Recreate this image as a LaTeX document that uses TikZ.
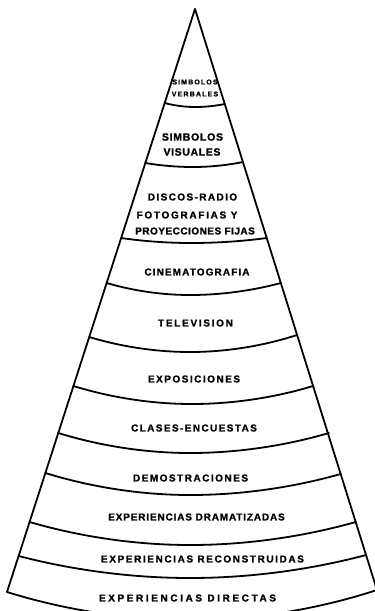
\documentclass[tikz,border=0pt]{standalone}
\usepackage{fontspec}
\setmainfont{Liberation Sans}
\newcommand\lsp[2]{{\addfontfeatures{LetterSpace=#1,FakeBold=1.3}#2}}
\begin{document}
\begin{tikzpicture}[x=1pt,y=-1pt,
  edge/.style={line width=1.8pt, line cap=round, line join=round},
  lbl/.style={inner sep=0pt, font=\fontsize{10}{12}\selectfont\bfseries},
  small/.style={inner sep=0pt, font=\fontsize{7}{8}\selectfont\bfseries},
  midl/.style={inner sep=0pt, font=\fontsize{10.5}{12}\selectfont\bfseries}]
\useasboundingbox (0,0) rectangle (375,611);
\clip (0,0) rectangle (375,611);
% apex and band boundary points (left, middle, right)
\coordinate (apex) at (195,9);
\coordinate (l1) at (164.7,103); \coordinate (m1) at (195,107); \coordinate (r1) at (224.8,104);
\coordinate (l2) at (145.3,163); \coordinate (m2) at (193,167); \coordinate (r2) at (242.9,162);
\coordinate (l3) at (121.1,238); \coordinate (m3) at (191,243); \coordinate (r3) at (266.7,238);
\coordinate (l4) at (106.6,283); \coordinate (m4) at (190,295); \coordinate (r4) at (280.8,283);
\coordinate (l5) at (89.2,337);  \coordinate (m5) at (190,352); \coordinate (r5) at (297.1,335);
\coordinate (l6) at (73.4,386);  \coordinate (m6) at (192,404); \coordinate (r6) at (313.1,386);
\coordinate (l7) at (58.3,433);  \coordinate (m7) at (190,453); \coordinate (r7) at (328.9,433);
\coordinate (l8) at (45.4,473);  \coordinate (m8) at (190,495); \coordinate (r8) at (340.7,474);
\coordinate (l9) at (29.6,522);  \coordinate (m9) at (190,545); \coordinate (r9) at (355.7,522);
\coordinate (l10) at (18.6,556); \coordinate (m10) at (190,578); \coordinate (r10) at (366.1,555);
\coordinate (l11) at (7,592);    \coordinate (m11) at (190,620); \coordinate (r11) at (377,590);
% sides
\draw[edge] (apex) -- (l11);
\draw[edge] (apex) -- (r11);
% band boundaries
\foreach \i in {1,...,11} \draw[edge] (l\i) parabola bend (m\i) (r\i);
% labels
\node[small] (verb1) at (195,82) {\lsp{16}{SIMBOLOS}};
\node[small] (verb2) at (195,94) {\lsp{17}{VERBALES}};
\node[midl] (vis1) at (192.5,137) {\lsp{7}{SIMBOLOS}};
\node[midl] (vis2) at (192,152) {\lsp{6}{VISUALES}};
\node[lbl] (disc1) at (192.5,197) {\lsp{14}{DISCOS-RADIO}};
\node[lbl] (disc2) at (187,215) {\lsp{17}{FOTOGRAFIAS Y}};
\node[lbl] (disc3) at (195,231) {\lsp{5}{PROYECCIONES FIJAS}};
\node[lbl] (cine) at (197,272) {\lsp{11}{CINEMATOGRAFIA}};
\node[lbl] (tv) at (195.5,323) {\lsp{17}{TELEVISION}};
\node[lbl] (expo) at (194,379) {\lsp{15}{EXPOSICIONES}};
\node[lbl] (clases) at (194,428) {\lsp{14}{CLASES-ENCUESTAS}};
\node[lbl] (demo) at (190.5,478) {\lsp{15}{DEMOSTRACIONES}};
\node[lbl] (dram) at (196.5,517) {\lsp{8.5}{EXPERIENCIAS DRAMATIZADAS}};
\node[lbl] (recon) at (202.5,559) {\lsp{16}{EXPERIENCIAS RECONSTRUIDAS}};
\node[lbl] (direct) at (187.5,598) {\lsp{26}{EXPERIENCIAS DIRECTAS}};
\end{tikzpicture}
\end{document}
